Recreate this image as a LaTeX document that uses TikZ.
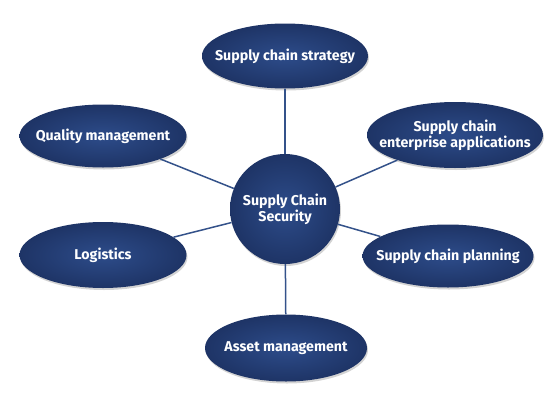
\documentclass[tikz,border=0pt]{standalone}
\usepackage{fontspec}
\setmainfont{Fira Sans}
\usetikzlibrary{shapes.geometric,shadows}
\definecolor{navy}{HTML}{1E3466}
\definecolor{navylight}{HTML}{2D4C8A}
\definecolor{spoke}{HTML}{34528A}
\begin{document}
\begin{tikzpicture}[x=1pt,y=-1pt,
    bubble/.style={ellipse,inner sep=0pt,inner color=navylight,outer color=navy,
      drop shadow={shadow xshift=1pt,shadow yshift=-2pt,opacity=.35}},
    caption/.style={text=white,align=center,inner sep=0pt,
      font=\bfseries\fontsize{14.2}{16}\selectfont}]

      \useasboundingbox (0,0) rectangle (550,400);

      \node[bubble,minimum width=166pt,minimum height=65pt] (strategy)   at (285,56)  {};
      \node[bubble,minimum width=167pt,minimum height=63pt] (quality)    at (103,136) {};
      \node[bubble,minimum width=176pt,minimum height=66pt] (enterprise) at (455,135) {};
      \node[bubble,minimum width=167pt,minimum height=66pt] (logistics)  at (103,255) {};
      \node[bubble,minimum width=171pt,minimum height=63pt] (planning)   at (448,256) {};
      \node[bubble,minimum width=162pt,minimum height=67pt] (asset)      at (286,348) {};
      \node[bubble,circle,minimum size=110pt] (hub) at (285,209) {};

      \node[caption] (strategy-t)   at (strategy)   {Supply chain strategy};
      \node[caption] (quality-t)    at (quality)    {Quality management};
      \node[caption] (enterprise-t) at (enterprise) {Supply chain\\enterprise applications};
      \node[caption] (logistics-t)  at (logistics)  {Logistics};
      \node[caption] (planning-t)   at (planning)   {Supply chain planning};
      \node[caption] (asset-t)      at (asset)      {Asset management};
      \node[caption] (hub-t)        at (hub)        {Supply Chain\\Security};

      \begin{scope}[every edge/.style={draw=spoke,line width=1.5pt}]
        \path (hub) edge (strategy);
        \path (hub) edge (quality);
        \path (hub) edge (enterprise);
        \path (hub) edge (logistics);
        \path (hub) edge (planning);
        \path (hub) edge (asset);
      \end{scope}

    \end{tikzpicture}
\end{document}
